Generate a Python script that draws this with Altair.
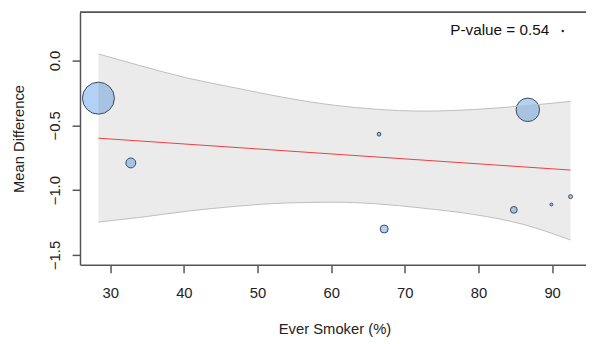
import altair as alt
import pandas as pd

# Studies: ever-smoker %, mean difference, weight (%)
smoker_pct = [28.4, 32.8, 66.5, 86.7, 67.2, 84.8, 89.9, 92.5]
mean_diff = [-0.29, -0.79, -0.568, -0.38, -1.30, -1.152, -1.111, -1.05]
weight = [56.3, 5.4, 0.77, 30.3, 3.5, 2.5, 0.46, 0.85]

# Regression fit line (end points)
fit_x = [28.4, 92.5]
fit_y = [-0.599, -0.845]

# Confidence band
band_x = [28.4, 33.8, 40.5, 47.2, 53.9, 60.6, 66.0, 72.6, 79.3, 86.0, 92.5]
band_upper = [0.051, -0.035, -0.135, -0.213, -0.288, -0.346, -0.375, -0.390, -0.378, -0.350, -0.315]
band_lower = [-1.246, -1.212, -1.162, -1.124, -1.099, -1.093, -1.105, -1.140, -1.187, -1.263, -1.385]

# Annotation
ann_text = ["P-value = 0.54"]
ann_x = [89.6]
ann_y = [0.237]
dot_x = [91.45]
dot_y = [0.228]

pts = pd.DataFrame({"x": smoker_pct, "y": mean_diff, "w": weight})
fit = pd.DataFrame({"x": fit_x, "y": fit_y})
band = pd.DataFrame({"x": band_x, "lo": band_lower, "hi": band_upper})
ann = pd.DataFrame({"x": ann_x, "y": ann_y, "t": ann_text})
dot = pd.DataFrame({"x": dot_x, "y": dot_y})

W, H = 513, 256
FONT = "Liberation Sans"

xscale = alt.Scale(domain=[25.9, 94.6], nice=False, zero=False)
yscale = alt.Scale(domain=[-1.576, 0.373], nice=False, zero=False)

xaxis = alt.Axis(
    title="Ever Smoker (%)", values=[30, 40, 50, 60, 70, 80, 90], grid=False,
    tickSize=8, labelPadding=13, labelFontSize=15, labelFont=FONT, labelColor="#222",
    titleFont=FONT, titleFontSize=15, titleFontWeight="normal", titleColor="#222",
    titleX=258, titleY=65, titleBaseline="middle", titleAlign="center",
    domainColor="#555", domainWidth=1.5, tickColor="#555", tickWidth=1.5,
)
yaxis = alt.Axis(
    title="Mean Difference", values=[-1.5, -1.0, -0.5, 0.0], format=".1f", grid=False,
    tickSize=8, labelPadding=10, labelFontSize=15, labelFont=FONT, labelColor="#222",
    labelAngle=270, labelAlign="center", labelBaseline="bottom",
    titleFont=FONT, titleFontSize=15, titleFontWeight="normal", titleColor="#222",
    titleAngle=270, titleX=-62, titleY=128, titleBaseline="middle", titleAlign="center",
    domainColor="#555", domainWidth=1.5, tickColor="#555", tickWidth=1.5,
)

circles = alt.Chart(pts).mark_point(
    shape="circle", filled=True, fill="#b3d1f5", fillOpacity=1,
    stroke="#3c4656", strokeWidth=1, opacity=1,
).encode(
    x=alt.X("x:Q", scale=xscale, axis=xaxis),
    y=alt.Y("y:Q", scale=yscale, axis=yaxis),
    size=alt.Size("w:Q", scale=alt.Scale(domain=[0, 56.3], range=[0, 1052], zero=True), legend=None),
)

area = alt.Chart(band).mark_area(
    color="#585858", opacity=0.12, interpolate="monotone"
).encode(
    x=alt.X("x:Q", scale=xscale),
    y=alt.Y("lo:Q", scale=yscale),
    y2="hi:Q",
)

upper_line = alt.Chart(band).mark_line(
    color="#bdbdbd", strokeWidth=1, interpolate="monotone"
).encode(x=alt.X("x:Q", scale=xscale), y=alt.Y("hi:Q", scale=yscale))

lower_line = alt.Chart(band).mark_line(
    color="#bdbdbd", strokeWidth=1, interpolate="monotone"
).encode(x=alt.X("x:Q", scale=xscale), y=alt.Y("lo:Q", scale=yscale))

fit_line = alt.Chart(fit).mark_line(color="#f03c3c", strokeWidth=1).encode(
    x=alt.X("x:Q", scale=xscale), y=alt.Y("y:Q", scale=yscale)
)

text = alt.Chart(ann).mark_text(
    align="right", baseline="middle", font=FONT, fontSize=15.5, color="#111"
).encode(x=alt.X("x:Q", scale=xscale), y=alt.Y("y:Q", scale=yscale), text="t:N")

dot_mark = alt.Chart(dot).mark_circle(size=6, color="#222", opacity=1).encode(
    x=alt.X("x:Q", scale=xscale), y=alt.Y("y:Q", scale=yscale)
)

top_border = alt.Chart(fit).mark_rule(color="#555", strokeWidth=1.5).encode(
    x=alt.value(0), x2=alt.value(W), y=alt.value(0)
)

chart = alt.layer(
    circles, area, upper_line, lower_line, fit_line, text, dot_mark, top_border
).properties(
    width=W, height=H,
    autosize=alt.AutoSizeParams(type="none"),
    padding={"left": 73, "top": 2, "right": 0, "bottom": 78},
).configure_view(stroke=None)

chart.save("out.html", embed_options={"renderer": "svg", "actions": False})
